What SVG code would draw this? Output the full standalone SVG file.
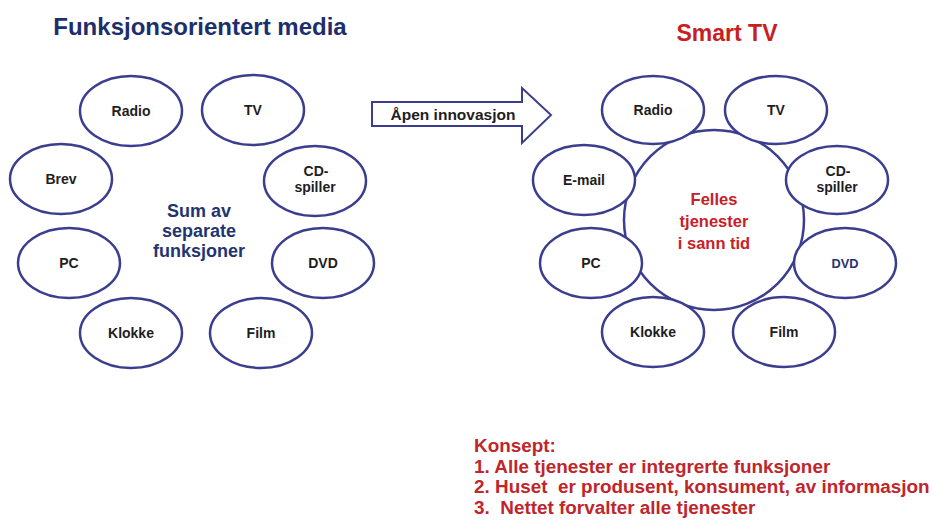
<svg xmlns="http://www.w3.org/2000/svg" width="933" height="522" viewBox="0 0 933 522">
  <style>
    text { font-family: "Liberation Sans", Arial, sans-serif; font-weight: bold; text-anchor: middle; }
    .oval { fill: #ffffff; stroke: #3b3e8e; stroke-width: 2.5; }
    .lbl { font-size: 14px; fill: #1e1e1e; }
    .title-l { font-size: 24px; fill: #1c2e6b; }
    .title-r { font-size: 23px; fill: #c8201f; }
    .sum { font-size: 18px; fill: #1f3570; }
    .felles { font-size: 16.5px; fill: #c62127; }
    .konsept { font-size: 18.9px; fill: #bf262b; text-anchor: start; white-space: pre; }
  </style>
  <rect width="933" height="522" fill="#ffffff"/>

  <!-- Left: function-oriented media -->
  <text class="title-l" x="200" y="35">Funksjonsorientert media</text>
  <g id="left-radio"><ellipse class="oval" cx="131" cy="111" rx="51" ry="35"/><text class="lbl" x="131" y="116">Radio</text></g>
  <g id="left-tv"><ellipse class="oval" cx="253" cy="110" rx="51" ry="35"/><text class="lbl" x="253" y="115">TV</text></g>
  <g id="left-brev"><ellipse class="oval" cx="61" cy="179" rx="51" ry="35"/><text class="lbl" x="61" y="184">Brev</text></g>
  <g id="left-cd"><ellipse class="oval" cx="315" cy="181" rx="51" ry="35"/><text class="lbl" x="316" y="176">CD-</text><text class="lbl" x="315" y="192">spiller</text></g>
  <g id="left-pc"><ellipse class="oval" cx="69" cy="263" rx="51" ry="35"/><text class="lbl" x="69" y="268">PC</text></g>
  <g id="left-dvd"><ellipse class="oval" cx="323" cy="263" rx="51" ry="35"/><text class="lbl" x="323" y="268">DVD</text></g>
  <g id="left-klokke"><ellipse class="oval" cx="131" cy="333" rx="51" ry="35"/><text class="lbl" x="131" y="338">Klokke</text></g>
  <g id="left-film"><ellipse class="oval" cx="261" cy="333" rx="51" ry="35"/><text class="lbl" x="261" y="338">Film</text></g>
  <g id="left-center">
    <text class="sum" x="199" y="217">Sum av</text>
    <text class="sum" x="199" y="237">separate</text>
    <text class="sum" x="199" y="257">funksjoner</text>
  </g>

  <!-- Transition arrow -->
  <g id="connectors">
    <path d="M372,102 L522,102 L522,88 L551,115 L522,143 L522,126 L372,126 Z" fill="#ffffff" stroke="#3b3e8e" stroke-width="2" stroke-linejoin="miter"/>
    <text x="453" y="120" style="font-size:15.5px; fill:#1e1e1e;">Åpen innovasjon</text>
  </g>

  <!-- Right: Smart TV -->
  <text class="title-r" x="727" y="41">Smart TV</text>
  <g id="right-center">
    <circle class="oval" cx="714" cy="220" r="90"/>
  </g>
  <g id="right-radio"><ellipse class="oval" cx="653" cy="110" rx="51" ry="34"/><text class="lbl" x="653" y="115">Radio</text></g>
  <g id="right-tv"><ellipse class="oval" cx="776" cy="110" rx="51" ry="34"/><text class="lbl" x="776" y="115">TV</text></g>
  <g id="right-email"><ellipse class="oval" cx="584" cy="180" rx="51" ry="35"/><text class="lbl" x="584" y="185">E-mail</text></g>
  <g id="right-cd"><ellipse class="oval" cx="837" cy="180" rx="51" ry="34"/><text class="lbl" x="838" y="176">CD-</text><text class="lbl" x="837" y="192">spiller</text></g>
  <g id="right-pc"><ellipse class="oval" cx="591" cy="263" rx="51" ry="35"/><text class="lbl" x="591" y="268">PC</text></g>
  <g id="right-dvd"><ellipse class="oval" cx="845" cy="263" rx="51" ry="35"/><text class="lbl" x="845" y="268" style="font-size:12.8px; fill:#2a3170;">DVD</text></g>
  <g id="right-klokke"><ellipse class="oval" cx="653" cy="332" rx="51" ry="35"/><text class="lbl" x="653" y="337">Klokke</text></g>
  <g id="right-film"><ellipse class="oval" cx="784" cy="332" rx="51" ry="35"/><text class="lbl" x="784" y="337">Film</text></g>
  <g id="right-center-label">
    <text class="felles" x="714" y="205">Felles</text>
    <text class="felles" x="714" y="227">tjenester</text>
    <text class="felles" x="714" y="249">i sann tid</text>
  </g>

  <!-- Concept list -->
  <g id="konsept">
    <text class="konsept" x="474" y="452">Konsept:</text>
    <text class="konsept" x="474" y="473">1. Alle tjenester er integrerte funksjoner</text>
    <text class="konsept" x="474" y="493">2. Huset  er produsent, konsument, av informasjon</text>
    <text class="konsept" x="474" y="514">3.  Nettet forvalter alle tjenester</text>
  </g>
</svg>
